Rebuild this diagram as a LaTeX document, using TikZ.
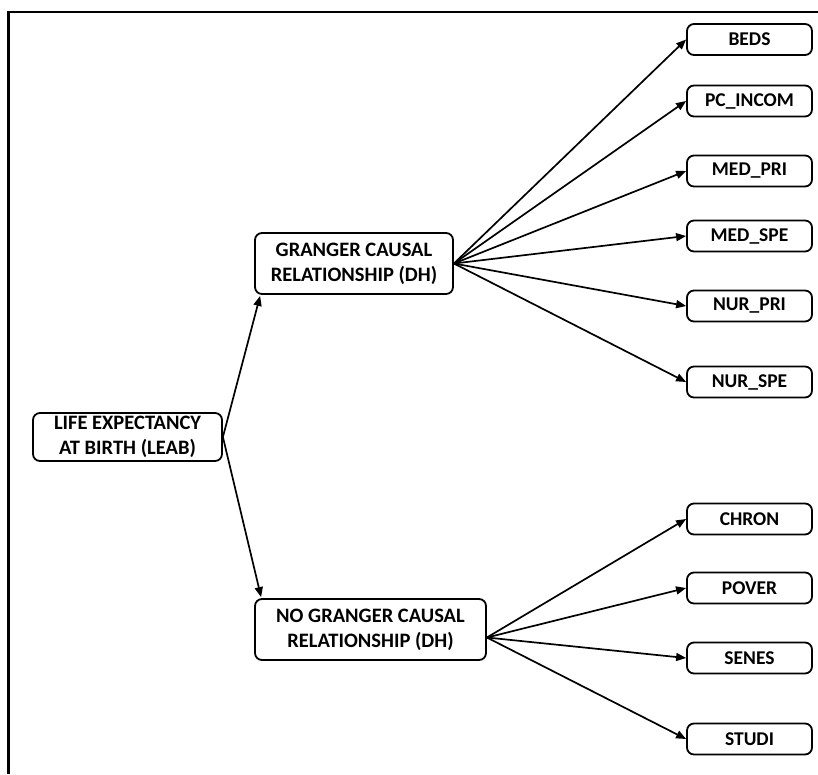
\documentclass[tikz,border=0pt]{standalone}
\usepackage{fontspec}
\setmainfont{Carlito}
\usetikzlibrary{arrows.meta}
\begin{document}
\begin{tikzpicture}[x=1pt,y=-1pt,
  box/.style={draw, line width=1.8pt, rounded corners=7pt, inner sep=0pt, align=center,
    font=\bfseries\fontsize{20.5}{25}\selectfont},
  small/.style={box, minimum width=125pt, minimum height=31pt, font=\bfseries\fontsize{19.5}{22}\selectfont},
  arr/.style={line width=1.7pt, -{Triangle[length=10pt,width=8pt]}}]
\useasboundingbox (0,0) rectangle (818,774);
\draw[line width=2.8pt] (8.5,774) -- (8.5,12) -- (818,12);
\node[box, minimum width=189pt, minimum height=48pt] (leab) at (127.5,437) {LIFE EXPECTANCY\\AT BIRTH (LEAB)};
\node[box, minimum width=198pt, minimum height=61pt] (gr) at (354,263.5) {GRANGER CAUSAL\\RELATIONSHIP (DH)};
\node[box, minimum width=231pt, minimum height=61pt] (ngr) at (370.5,629.5) {NO GRANGER CAUSAL\\RELATIONSHIP (DH)};
\node[small] (beds) at (749.5,39.5) {BEDS};
\node[small] (pc) at (749.5,101) {PC\_INCOM};
\node[small] (medpri) at (749.5,171) {MED\_PRI};
\node[small] (medspe) at (749.5,236) {MED\_SPE};
\node[small] (nurpri) at (749.5,306) {NUR\_PRI};
\node[small] (nurspe) at (749.5,382) {NUR\_SPE};
\node[small] (chron) at (749.5,519) {CHRON};
\node[small] (pover) at (749.5,588) {POVER};
\node[small] (senes) at (749.5,658) {SENES};
\node[small] (studi) at (749.5,739) {STUDI};
\draw[arr] (leab.east) -- ([xshift=6pt,yshift=-1pt]gr.south west);
\draw[arr] (leab.east) -- ([xshift=7pt,yshift=1pt]ngr.north west);
\foreach \t in {beds,pc,medpri,medspe,nurpri,nurspe}
  \draw[arr] (gr.east) -- (\t.west);
\foreach \t in {chron,pover,senes,studi}
  \draw[arr] ([yshift=-8pt]ngr.east) -- (\t.west);
\end{tikzpicture}
\end{document}
